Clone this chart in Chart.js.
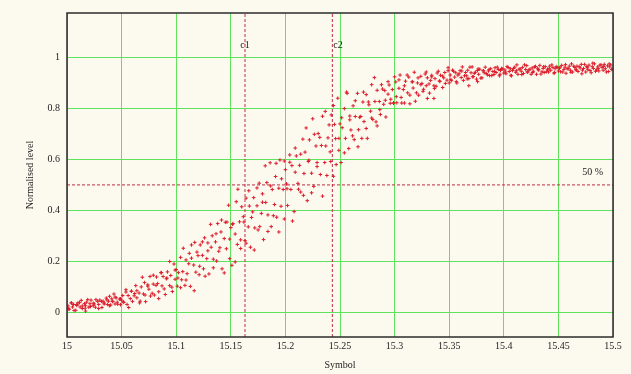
<!DOCTYPE html>
<html>
<head>
<meta charset="utf-8">
<script src="https://cdn.jsdelivr.net/npm/chart.js@4/dist/chart.umd.min.js"></script>
<style>
  html, body { margin: 0; padding: 0; background: #fcf9ef; }
  canvas { display: block; }
</style>
</head>
<body>
<canvas id="grafico" width="631" height="374"></canvas>
<script>
// Ejes
const xTicks = [15, 15.05, 15.1, 15.15, 15.2, 15.25, 15.3, 15.35, 15.4, 15.45, 15.5];
const yTicks = [0, 0.2, 0.4, 0.6, 0.8, 1];
const xRange = [15, 15.5];
const yRange = [-0.098, 1.176];

// Cursores y nivel
const cursorNames = ['c1', 'c2'];
const cursorValues = [15.163, 15.243];
const levelValue = 0.5;
const levelLabel = '50 %';

// Puntos medidos [symbol, nivel]
const tailLeft = [[15.001,0.024],[15.002,0.011],[15.004,0.036],[15.005,0.020],[15.006,0.030],[15.008,0.007],[15.009,0.026],[15.010,0.036],[15.012,0.020],[15.013,0.046],[15.014,0.014],[15.016,0.033],[15.017,0.025],[15.017,0.004],[15.018,0.039],[15.020,0.019],[15.021,0.033],[15.022,0.047],[15.024,0.025],[15.025,0.032],[15.026,0.019],[15.028,0.042],[15.029,0.030],[15.030,0.047],[15.032,0.018],[15.033,0.043],[15.034,0.036],[15.036,0.055],[15.037,0.030],[15.038,0.043],[15.039,0.062],[15.040,0.028],[15.041,0.052],[15.042,0.042],[15.043,0.071],[15.044,0.032],[15.045,0.056],[15.046,0.039],[15.048,0.051],[15.049,0.029],[15.050,0.047]];
const riseA = [[15.051,0.065],[15.052,0.038],[15.054,0.088],[15.055,0.030],[15.056,0.065],[15.058,0.053],[15.059,0.082],[15.060,0.042],[15.062,0.073],[15.063,0.104],[15.064,0.056],[15.066,0.075],[15.067,0.043],[15.068,0.099],[15.070,0.071],[15.071,0.116],[15.072,0.041],[15.074,0.107],[15.075,0.090],[15.076,0.140],[15.078,0.074],[15.079,0.110],[15.080,0.067],[15.082,0.138],[15.083,0.112],[15.084,0.080],[15.086,0.155],[15.087,0.103],[15.088,0.140],[15.090,0.069],[15.091,0.131],[15.092,0.158],[15.094,0.104],[15.095,0.144],[15.096,0.098],[15.098,0.189],[15.099,0.129],[15.100,0.167]];
const riseB = [[15.101,0.102],[15.102,0.155],[15.104,0.215],[15.105,0.127],[15.106,0.159],[15.108,0.105],[15.109,0.205],[15.110,0.151],[15.112,0.231],[15.113,0.101],[15.114,0.212],[15.116,0.185],[15.117,0.274],[15.118,0.157],[15.120,0.222],[15.121,0.147],[15.122,0.264],[15.124,0.223],[15.125,0.170],[15.126,0.292],[15.128,0.210],[15.129,0.272],[15.130,0.150],[15.132,0.255],[15.133,0.300],[15.134,0.208],[15.136,0.276],[15.137,0.201],[15.138,0.348],[15.140,0.253],[15.141,0.315],[15.142,0.170],[15.144,0.289],[15.145,0.353],[15.146,0.249],[15.148,0.420],[15.149,0.210],[15.150,0.332]];
const riseC = [[15.151,0.184],[15.152,0.348],[15.154,0.307],[15.155,0.434],[15.156,0.266],[15.158,0.355],[15.159,0.250],[15.160,0.414],[15.162,0.354],[15.163,0.281],[15.164,0.448],[15.166,0.335],[15.167,0.417],[15.168,0.255],[15.170,0.394],[15.171,0.450],[15.172,0.331],[15.174,0.418],[15.175,0.323],[15.176,0.507],[15.178,0.388],[15.179,0.465],[15.180,0.285],[15.182,0.431],[15.183,0.509],[15.184,0.382],[15.186,0.587],[15.187,0.336],[15.188,0.482],[15.190,0.423],[15.191,0.533],[15.192,0.373],[15.194,0.487],[15.195,0.598],[15.196,0.416],[15.198,0.482],[15.199,0.366],[15.200,0.560]];
const riseD = [[15.201,0.504],[15.202,0.419],[15.204,0.618],[15.205,0.482],[15.206,0.576],[15.208,0.395],[15.209,0.550],[15.210,0.614],[15.212,0.483],[15.213,0.577],[15.214,0.472],[15.216,0.680],[15.217,0.545],[15.218,0.629],[15.220,0.438],[15.221,0.592],[15.222,0.677],[15.224,0.546],[15.225,0.760],[15.226,0.494],[15.228,0.653],[15.229,0.588],[15.230,0.702],[15.232,0.541],[15.233,0.655],[15.234,0.770],[15.236,0.588],[15.237,0.653],[15.238,0.537],[15.240,0.736],[15.241,0.630],[15.242,0.775],[15.244,0.534],[15.245,0.738],[15.246,0.682],[15.248,0.841],[15.249,0.636],[15.250,0.740]];
const shoulderA = [[15.251,0.588],[15.252,0.725],[15.254,0.800],[15.255,0.683],[15.256,0.865],[15.258,0.643],[15.259,0.771],[15.260,0.716],[15.262,0.811],[15.263,0.678],[15.264,0.769],[15.266,0.860],[15.267,0.717],[15.268,0.766],[15.270,0.683],[15.271,0.826],[15.272,0.749],[15.274,0.855],[15.275,0.683],[15.276,0.826],[15.278,0.790],[15.279,0.894],[15.280,0.757],[15.282,0.828],[15.283,0.748],[15.284,0.872],[15.286,0.828],[15.287,0.777],[15.288,0.894],[15.290,0.817],[15.291,0.871],[15.292,0.767],[15.294,0.857],[15.295,0.893],[15.296,0.821],[15.298,0.875],[15.299,0.821],[15.300,0.925]];
const shoulderB = [[15.301,0.905],[15.302,0.823],[15.304,0.880],[15.305,0.932],[15.306,0.844],[15.308,0.875],[15.309,0.822],[15.310,0.908],[15.312,0.862],[15.313,0.924],[15.314,0.819],[15.316,0.905],[15.317,0.881],[15.318,0.943],[15.320,0.862],[15.321,0.901],[15.322,0.853],[15.324,0.927],[15.325,0.899],[15.326,0.868],[15.328,0.936],[15.329,0.890],[15.330,0.921],[15.330,0.840],[15.332,0.861],[15.333,0.911],[15.334,0.931],[15.336,0.890],[15.336,0.840],[15.337,0.918],[15.338,0.888],[15.340,0.947],[15.341,0.909],[15.342,0.931],[15.344,0.883],[15.345,0.921],[15.346,0.942],[15.348,0.912],[15.349,0.961],[15.350,0.901]];
const plateauA = [[15.351,0.932],[15.352,0.910],[15.353,0.951],[15.355,0.924],[15.356,0.941],[15.357,0.901],[15.358,0.932],[15.360,0.949],[15.361,0.922],[15.362,0.964],[15.363,0.911],[15.365,0.942],[15.366,0.929],[15.367,0.951],[15.368,0.918],[15.368,0.890],[15.370,0.941],[15.371,0.964],[15.372,0.926],[15.373,0.939],[15.375,0.916],[15.376,0.950],[15.376,0.906],[15.377,0.935],[15.378,0.955],[15.380,0.921],[15.381,0.949],[15.382,0.941],[15.383,0.963],[15.385,0.933],[15.386,0.948],[15.387,0.930],[15.388,0.957],[15.390,0.946],[15.391,0.934],[15.392,0.961],[15.393,0.942],[15.395,0.954],[15.396,0.929],[15.397,0.950],[15.398,0.958],[15.400,0.940],[15.401,0.952],[15.402,0.937],[15.403,0.965],[15.405,0.946],[15.406,0.957],[15.407,0.929],[15.408,0.950],[15.410,0.963],[15.411,0.943],[15.412,0.972],[15.413,0.935],[15.415,0.956],[15.416,0.947],[15.417,0.962],[15.418,0.938],[15.420,0.954],[15.421,0.969],[15.422,0.944],[15.423,0.952],[15.425,0.935]];
const plateauB = [[15.426,0.960],[15.427,0.947],[15.428,0.964],[15.430,0.935],[15.431,0.959],[15.432,0.952],[15.433,0.970],[15.435,0.945],[15.436,0.958],[15.437,0.942],[15.438,0.965],[15.440,0.955],[15.441,0.944],[15.442,0.967],[15.443,0.951],[15.445,0.962],[15.446,0.939],[15.447,0.957],[15.448,0.965],[15.450,0.948],[15.451,0.959],[15.452,0.945],[15.453,0.970],[15.455,0.954],[15.456,0.963],[15.457,0.939],[15.458,0.957],[15.460,0.967],[15.461,0.951],[15.462,0.976],[15.463,0.944],[15.465,0.962],[15.466,0.953],[15.467,0.967],[15.468,0.946],[15.470,0.960],[15.471,0.974],[15.472,0.951],[15.473,0.958],[15.475,0.944],[15.476,0.966],[15.477,0.953],[15.478,0.971],[15.480,0.941],[15.481,0.965],[15.482,0.958],[15.483,0.976],[15.485,0.952],[15.486,0.964],[15.487,0.948],[15.488,0.971],[15.490,0.962],[15.491,0.951],[15.492,0.974],[15.493,0.957],[15.495,0.968],[15.496,0.946],[15.497,0.964],[15.498,0.972],[15.499,0.955]];

// Segunda pasada de barrido (puntos intercalados)
const tailLeft2 = [[15.0015,0.013],[15.004,0.036],[15.0065,0.006],[15.009,0.030],[15.0115,0.037],[15.014,0.024],[15.0165,0.015],[15.019,0.049],[15.0215,0.022],[15.024,0.035],[15.0265,0.049],[15.029,0.014],[15.0315,0.042],[15.034,0.032],[15.0365,0.048],[15.039,0.025],[15.0415,0.042],[15.044,0.059],[15.0465,0.031],[15.049,0.052]];
const riseA2 = [[15.0515,0.040],[15.054,0.079],[15.0565,0.018],[15.059,0.082],[15.0615,0.064],[15.064,0.084],[15.0665,0.036],[15.069,0.137],[15.0715,0.067],[15.074,0.102],[15.0765,0.063],[15.079,0.145],[15.0815,0.105],[15.084,0.053],[15.0865,0.155],[15.089,0.091],[15.0915,0.134],[15.094,0.199],[15.0965,0.081],[15.099,0.165]];
const riseB2 = [[15.1015,0.134],[15.104,0.096],[15.1065,0.251],[15.109,0.126],[15.1115,0.190],[15.114,0.264],[15.1165,0.084],[15.119,0.236],[15.1215,0.180],[15.124,0.276],[15.1265,0.141],[15.129,0.241],[15.1315,0.345],[15.134,0.174],[15.1365,0.308],[15.139,0.239],[15.1415,0.362],[15.144,0.154],[15.1465,0.354],[15.149,0.287]];
const riseC2 = [[15.1515,0.345],[15.154,0.197],[15.1565,0.483],[15.159,0.284],[15.1615,0.375],[15.164,0.271],[15.1665,0.477],[15.169,0.372],[15.1715,0.244],[15.174,0.488],[15.1765,0.336],[15.179,0.432],[15.1815,0.575],[15.184,0.317],[15.1865,0.496],[15.189,0.379],[15.1915,0.585],[15.194,0.315],[15.1965,0.524],[15.199,0.594]];
const riseD2 = [[15.2015,0.485],[15.204,0.589],[15.2065,0.358],[15.209,0.645],[15.2115,0.506],[15.214,0.621],[15.2165,0.459],[15.219,0.724],[15.2215,0.597],[15.224,0.469],[15.2265,0.699],[15.229,0.572],[15.2315,0.687],[15.234,0.456],[15.2365,0.789],[15.239,0.685],[15.2415,0.592],[15.244,0.812],[15.2465,0.580],[15.249,0.683]];
const shoulderA2 = [[15.2515,0.764],[15.254,0.626],[15.2565,0.860],[15.259,0.756],[15.2615,0.693],[15.264,0.831],[15.2665,0.650],[15.269,0.769],[15.2715,0.865],[15.274,0.722],[15.2765,0.815],[15.279,0.763],[15.2815,0.922],[15.284,0.732],[15.2865,0.796],[15.289,0.877],[15.2915,0.833],[15.294,0.906],[15.2965,0.837],[15.299,0.823]];
const shoulderB2 = [[15.3015,0.847],[15.304,0.913],[15.3065,0.822],[15.309,0.890],[15.3115,0.932],[15.314,0.853],[15.3165,0.906],[15.319,0.829],[15.3215,0.921],[15.324,0.894],[15.3265,0.876],[15.329,0.944],[15.3315,0.897],[15.334,0.925],[15.3365,0.879],[15.339,0.940],[15.3415,0.907],[15.344,0.928],[15.3465,0.899],[15.349,0.949]];
const plateau2 = [[15.3515,0.915],[15.354,0.947],[15.3565,0.906],[15.359,0.937],[15.3615,0.948],[15.364,0.929],[15.3665,0.917],[15.369,0.963],[15.3715,0.925],[15.374,0.943],[15.3765,0.956],[15.379,0.920],[15.3815,0.949],[15.384,0.938],[15.3865,0.954],[15.389,0.930],[15.3915,0.946],[15.394,0.963],[15.3965,0.935],[15.399,0.956],[15.4015,0.944],[15.404,0.962],[15.4065,0.931],[15.409,0.958],[15.4115,0.949],[15.414,0.955],[15.4165,0.934],[15.419,0.972],[15.4215,0.944],[15.424,0.955],[15.4265,0.942],[15.429,0.966],[15.4315,0.953],[15.434,0.936],[15.4365,0.965],[15.439,0.945],[15.4415,0.957],[15.444,0.972],[15.4465,0.942],[15.449,0.962],[15.4515,0.963],[15.454,0.944],[15.4565,0.973],[15.459,0.957],[15.4615,0.943],[15.464,0.967],[15.4665,0.952],[15.469,0.965],[15.4715,0.937],[15.474,0.974],[15.4765,0.961],[15.479,0.950],[15.4815,0.979],[15.484,0.947],[15.4865,0.957],[15.489,0.972],[15.4915,0.966],[15.494,0.944],[15.4965,0.976],[15.499,0.954]];

const serif = '"Liberation Serif", "Times New Roman", serif';
const puntos = [
  tailLeft, riseA, riseB, riseC, riseD, shoulderA, shoulderB, plateauA, plateauB,
  tailLeft2, riseA2, riseB2, riseC2, riseD2, shoulderA2, shoulderB2, plateau2
].flat().map(([x, y]) => ({ x, y }));

const dashStyle = {
  type: 'line',
  borderColor: '#bf2d45',
  borderWidth: 1,
  borderDash: [3, 2],
  pointRadius: 0,
  fill: false
};

const cursorSets = cursorValues.map(v => ({
  ...dashStyle,
  data: [{ x: v, y: yRange[0] }, { x: v, y: yRange[1] }]
}));

const levelSet = {
  ...dashStyle,
  data: [{ x: xRange[0], y: levelValue }, { x: xRange[1], y: levelValue }]
};

// Marco, etiquetas de cursores y nivel
const marcas = {
  id: 'marcas',
  afterDraw(chart) {
    const { ctx, chartArea: a, scales: { x, y } } = chart;
    ctx.save();
    ctx.strokeStyle = '#2b2b2b';
    ctx.lineWidth = 1.5;
    ctx.strokeRect(a.left, a.top, a.right - a.left, a.bottom - a.top);

    ctx.fillStyle = '#222';
    ctx.font = '10px ' + serif;
    ctx.textBaseline = 'middle';
    cursorNames.forEach((name, i) => {
      const px = x.getPixelForValue(cursorValues[i]);
      ctx.textAlign = i === 0 ? 'center' : 'left';
      ctx.fillText(name, i === 0 ? px : px + 1, a.top + 32);
    });
    ctx.textAlign = 'right';
    ctx.fillText(levelLabel, a.right - 10, y.getPixelForValue(levelValue) - 13);
    ctx.restore();
  }
};

new Chart(document.getElementById('grafico'), {
  type: 'scatter',
  data: {
    datasets: [
      {
        data: puntos,
        pointStyle: 'cross',
        pointRadius: 1.8,
        borderColor: '#dc1e2c',
        borderWidth: 1
      },
      ...cursorSets,
      levelSet
    ]
  },
  options: {
    responsive: false,
    animation: false,
    layout: { padding: { top: 9, right: 18, left: 0, bottom: 0 } },
    plugins: {
      legend: { display: false },
      tooltip: { enabled: false }
    },
    scales: {
      x: {
        type: 'linear',
        min: xRange[0],
        max: xRange[1],
        afterBuildTicks: axis => { axis.ticks = xTicks.map(v => ({ value: v })); },
        afterFit: axis => { axis.height = 37; },
        ticks: {
          padding: 3,
          color: '#222',
          font: { family: serif, size: 10 },
          maxRotation: 0,
          callback: v => String(+v.toFixed(2))
        },
        grid: { color: '#5fe35f', lineWidth: 1, drawTicks: false },
        border: { display: false },
        title: {
          display: true,
          text: 'Symbol',
          color: '#222',
          font: { family: serif, size: 10 },
          padding: { top: 0, bottom: 3 }
        }
      },
      y: {
        type: 'linear',
        min: yRange[0],
        max: yRange[1],
        afterBuildTicks: axis => { axis.ticks = yTicks.map(v => ({ value: v })); },
        afterFit: axis => { axis.width = 67; },
        ticks: {
          padding: 7,
          color: '#222',
          font: { family: serif, size: 10 },
          callback: v => String(+v.toFixed(1))
        },
        grid: { color: '#5fe35f', lineWidth: 1, drawTicks: false },
        border: { display: false },
        title: {
          display: true,
          text: 'Normalised level',
          color: '#222',
          font: { family: serif, size: 10 },
          padding: { top: 24, bottom: 0 }
        }
      }
    }
  },
  plugins: [marcas]
});
</script>
</body>
</html>
